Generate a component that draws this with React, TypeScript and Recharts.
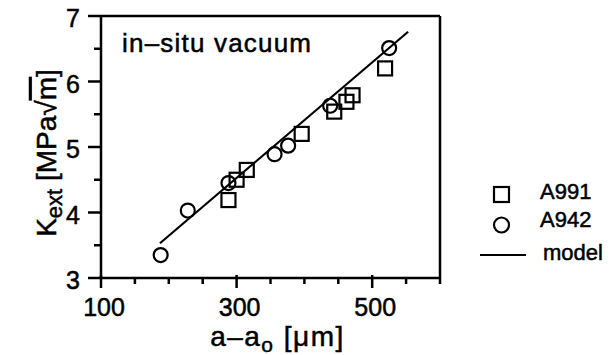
import React from 'react';
import { ScatterChart, Scatter, XAxis, YAxis, ReferenceLine, Customized } from 'recharts';

const squareX = [288, 300, 315, 396, 444, 462, 471, 519];
const squareY = [4.19, 4.5, 4.65, 5.2, 5.54, 5.69, 5.79, 6.2];
const circleX = [188, 228, 288, 356, 376, 438, 525];
const circleY = [3.35, 4.03, 4.45, 4.89, 5.02, 5.63, 6.51];
const modelX = [187, 553];
const modelY = [3.53, 6.76];

const xTicks = [100, 150, 200, 250, 300, 350, 400, 450, 500, 550, 600];
const xLabelled = [100, 300, 500];
const yTicks = [3, 3.5, 4, 4.5, 5, 5.5, 6, 6.5, 7];
const yLabelled = [3, 4, 5, 6, 7];

const seriesNames = ['A991', 'A942', 'model'];
const titleText = 'in\u2013situ vacuum';

const squares = squareX.map((x, i) => ({ x, y: squareY[i] }));
const circles = circleX.map((x, i) => ({ x, y: circleY[i] }));
const model = modelX.map((x, i) => ({ x, y: modelY[i] }));

const FONT = '"Liberation Sans", Arial, sans-serif';
const TXT = { fontFamily: FONT, fill: '#000', stroke: '#000', strokeWidth: 0.5 };

const SquareShape = (p: any) => (
  <rect x={p.cx - 7} y={p.cy - 7} width={14} height={14} fill="none" stroke="#000" strokeWidth={2.2} />
);
const CircleShape = (p: any) => (
  <circle cx={p.cx} cy={p.cy} r={7} fill="none" stroke="#000" strokeWidth={2.2} />
);
const NoShape = () => <g />;

const XTick = (p: any) => {
  const v = p.payload.value;
  const major = xLabelled.includes(v);
  return (
    <g>
      <line x1={p.x} x2={p.x} y1={p.y - (major ? 3 : 0)} y2={p.y + (major ? 10 : 6)} stroke="#000" strokeWidth={2.5} />
      {major && (
        <text x={p.x + 3} y={p.y + 38} textAnchor="middle" fontSize={25} {...TXT}>
          {v}
        </text>
      )}
    </g>
  );
};

const YTick = (p: any) => {
  const v = p.payload.value;
  const major = yLabelled.includes(v);
  return (
    <g>
      <line x1={p.x} x2={p.x - (major ? 13 : 7)} y1={p.y} y2={p.y} stroke="#000" strokeWidth={2.5} />
      {major && (
        <text x={p.x - 21} y={p.y + 11} textAnchor="end" fontSize={25} {...TXT}>
          {v}
        </text>
      )}
    </g>
  );
};

const XLabel = (p: any) => {
  const vb = p.viewBox;
  const cx = vb.x + vb.width / 2 + 7;
  return (
    <text x={cx} y={vb.y + 68} textAnchor="middle" fontSize={28} letterSpacing={1.5} {...TXT}>
      a{'\u2013'}a<tspan dy={6} fontSize={21}>o</tspan>
      <tspan dy={-6}> [{'\u03bc'}m]</tspan>
    </text>
  );
};

const YLabel = () => {
  const cx = 56;
  const cy = 153;
  return (
    <text x={cx} y={cy} textAnchor="middle" fontSize={28} {...TXT} transform={`rotate(-90 ${cx} ${cy})`}>
      K<tspan dy={6} fontSize={22}>ext</tspan>
      <tspan dy={-6}> [MPa{'\u221a'}</tspan>
      <tspan textDecoration="overline">m</tspan>
      <tspan>]</tspan>
    </text>
  );
};

const Title = () => (
  <text x={122} y={52} fontSize={26} letterSpacing={1.2} {...TXT}>
    {titleText}
  </text>
);

const LegendBox = () => (
  <g transform="translate(470,168)">
    <rect x={24} y={19} width={15} height={15} fill="none" stroke="#000" strokeWidth={2.2} />
    <text x={70} y={31} fontSize={22} {...TXT}>{seriesNames[0]}</text>
    <circle cx={31.5} cy={57} r={7.5} fill="none" stroke="#000" strokeWidth={2.2} />
    <text x={70} y={59} fontSize={22} {...TXT}>{seriesNames[1]}</text>
    <line x1={10} x2={56} y1={87} y2={87} stroke="#000" strokeWidth={2.2} />
    <text x={73} y={92} fontSize={22} {...TXT}>{seriesNames[2]}</text>
  </g>
);

export default function App() {
  return (
    <div style={{ position: 'absolute', left: 0, top: 0, width: 612, height: 355, background: '#fff' }}>
      <ScatterChart width={612} height={355} margin={{ top: 16, right: 172, bottom: 0, left: 0 }}>
        <XAxis
          type="number"
          dataKey="x"
          domain={[100, 600]}
          ticks={xTicks}
          interval={0}
          height={77}
          tickSize={0}
          tickMargin={0}
          tickLine={false}
          tick={<XTick />}
          axisLine={{ stroke: '#000', strokeWidth: 2.5 }}
          label={<XLabel />}
          allowDataOverflow
        />
        <YAxis
          type="number"
          dataKey="y"
          domain={[3, 7]}
          ticks={yTicks}
          interval={0}
          width={101}
          tickSize={0}
          tickMargin={0}
          tickLine={false}
          tick={<YTick />}
          axisLine={{ stroke: '#000', strokeWidth: 2.5 }}
          allowDataOverflow
        />
        <ReferenceLine y={7} stroke="#000" strokeWidth={2.5} />
        <ReferenceLine x={600} stroke="#000" strokeWidth={2.5} />
        <Scatter name={seriesNames[0]} data={squares} shape={SquareShape} isAnimationActive={false} />
        <Scatter name={seriesNames[1]} data={circles} shape={CircleShape} isAnimationActive={false} />
        <Scatter
          name={seriesNames[2]}
          data={model}
          line={{ stroke: '#000', strokeWidth: 2.2 }}
          lineType="joint"
          shape={NoShape}
          isAnimationActive={false}
        />
        <Customized component={Title} />
        <Customized component={YLabel} />
        <Customized component={LegendBox} />
      </ScatterChart>
    </div>
  );
}
